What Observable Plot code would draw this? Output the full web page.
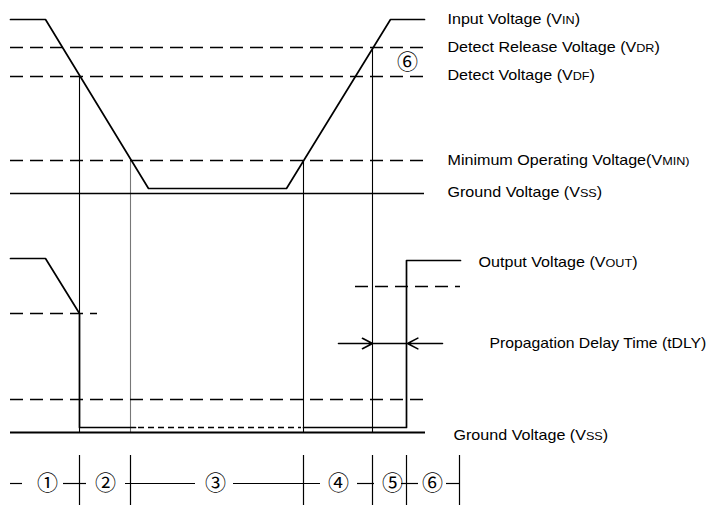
<!DOCTYPE html>
<html><head><meta charset="utf-8">
<script src="https://cdn.jsdelivr.net/npm/d3@7"></script>
<script src="https://cdn.jsdelivr.net/npm/@observablehq/plot@0.6"></script>
<style>body{margin:0;background:#fff}</style>
</head><body><div id="chart"></div>
<script>
// Diagram units: t = time axis (left→right), v = level (top→bottom)
// Input voltage waveform
const vinT = [10, 45, 148, 286, 390, 424];
const vinV = [19, 19, 188, 188, 19, 19];
// Output voltage waveform (solid parts), segment ids
const voutT = [10, 45, 79, 79, 135, 303, 406, 406, 460];
const voutV = [258, 258, 313, 427, 427, 427, 427, 260, 260];
const voutSeg = [0, 0, 0, 0, 0, 1, 1, 1, 1];
// Dotted (undefined) part of output
const dottedT = [138, 301];
const dottedV = 427;
// Threshold levels (top)
const topDashLevels = [47, 76, 160];
const topDashT = [10, 424];
const topGround = 193;
// Output thresholds
const outDashV = [313, 286, 399];
const outDashT1 = [10, 355, 10];
const outDashT2 = [97, 460, 425];
const outGround = 432;
const outGroundT = [10, 425];
// Event times (vertical guides): time, start level, colour
const eventT = [79, 130, 303, 372];
const eventStart = [76, 160, 160, 47];
const eventColor = ["#000", "#777", "#000", "#000"];
const eventEnd = 432;
// Delay arrows
const delayV = 343;
const delayFrom = [338, 442];
const delayTo = [372, 407];
// Period bar
const periodTicks = [79, 130, 303, 372, 406, 459];
const periodTickV = [455, 505];
const periodBarV = 483;
const periodSegT1 = [10, 63, 125, 233, 357, 401, 446];
const periodSegT2 = [22, 86, 195, 320, 374, 418, 459];
const periodLabels = ["①", "②", "③", "④", "⑤", "⑥"];
const periodLabelT = [47, 105, 215, 338, 392, 432];
// Marker ⑥ near thresholds
const markT = 407, markV = 62;
// Right-hand labels ({..} = small caps subscript)
const labelText = [
  "Input Voltage (V{IN})",
  "Detect Release Voltage (V{DR})",
  "Detect Voltage (V{DF})",
  "Minimum Operating Voltage(V{MIN)}",
  "Ground Voltage (V{SS})",
  "Output Voltage (V{OUT})",
  "Propagation Delay Time (tDLY)",
  "Ground Voltage (V{SS})"
];
const labelT = [447, 447, 447, 447, 447, 478, 489, 453];
const labelV = [19, 47, 75, 160, 192, 262, 343, 435];

const vin = vinT.map((t, i) => ({t, v: vinV[i]}));
const vout = voutT.map((t, i) => ({t, v: voutV[i], s: voutSeg[i]}));
const topDash = topDashLevels.map(v => ({v, t1: topDashT[0], t2: topDashT[1]}));
const outDash = outDashV.map((v, i) => ({v, t1: outDashT1[i], t2: outDashT2[i]}));
const events = eventT.map((t, i) => ({t, v1: eventStart[i], v2: eventEnd, c: eventColor[i]}));
const arrows = delayFrom.map((f, i) => ({f, to: delayTo[i], v: delayV}));
const periodSegs = periodSegT1.map((t1, i) => ({t1, t2: periodSegT2[i], v: periodBarV}));
const periods = periodLabels.map((l, i) => ({l, t: periodLabelT[i], v: periodBarV}));
const labels = labelText.map((s, i) => ({s, t: labelT[i], v: labelV[i]}));

const chart = Plot.plot({
  width: 709, height: 506,
  margin: 0,
  x: {domain: [0, 709], range: [0, 709], axis: null},
  y: {domain: [0, 506], range: [0, 506], axis: null},
  style: {background: "#fff"},
  marks: [
    // vertical event guides
    Plot.ruleX(events, {x: "t", y1: "v1", y2: "v2", stroke: "c", strokeWidth: 1.1}),
    // top thresholds
    Plot.ruleY(topDash, {y: "v", x1: "t1", x2: "t2", stroke: "#000", strokeWidth: 1.7, strokeDasharray: "13,7"}),
    Plot.ruleY([topGround], {y: d => d, x1: topDashT[0], x2: topDashT[1], stroke: "#000", strokeWidth: 1.6}),
    Plot.line(vin, {x: "t", y: "v", stroke: "#000", strokeWidth: 1.7, curve: "linear"}),
    // output thresholds
    Plot.ruleY(outDash, {y: "v", x1: "t1", x2: "t2", stroke: "#000", strokeWidth: 1.7, strokeDasharray: "13,7"}),
    Plot.ruleY([outGround], {y: d => d, x1: outGroundT[0], x2: outGroundT[1], stroke: "#000", strokeWidth: 1.8}),
    Plot.line(vout, {x: "t", y: "v", z: "s", stroke: "#000", strokeWidth: 1.7, curve: "linear"}),
    Plot.ruleY([dottedV], {y: d => d, x1: dottedT[0], x2: dottedT[1], stroke: "#000", strokeWidth: 1.5, strokeDasharray: "6,4"}),
    // propagation delay arrows
    Plot.ruleY([delayV], {y: d => d, x1: delayTo[0], x2: delayTo[1], stroke: "#000", strokeWidth: 1.6}),
    Plot.arrow(arrows, {x1: "f", x2: "to", y1: "v", y2: "v", stroke: "#000", strokeWidth: 1.6, headAngle: 55, headLength: 16, insetEnd: 0}),
    // period bar
    Plot.ruleX(periodTicks, {x: d => d, y1: periodTickV[0], y2: periodTickV[1], stroke: "#000", strokeWidth: 1.2}),
    Plot.ruleY(periodSegs, {y: "v", x1: "t1", x2: "t2", stroke: "#000", strokeWidth: 1.2}),
    Plot.text(periods, {x: "t", y: "v", text: "l", fontSize: 21, fill: "#000", fontFamily: "Noto Sans CJK JP", textAnchor: "middle", lineAnchor: "middle"}),
    Plot.text([markT], {x: d => d, y: markV, text: () => "⑥", fontSize: 21, fill: "#000", fontFamily: "Noto Sans CJK JP", textAnchor: "middle", lineAnchor: "middle"}),
    // labels
    Plot.text(labels, {x: "t", y: "v", text: "s", fontSize: 14, fill: "#000", fontFamily: "Liberation Sans", textAnchor: "start", lineAnchor: "middle", className: "lbl"})
  ]
});

document.getElementById("chart").append(chart);

// render {..} parts as small capitals, stretch horizontally but keep inside the frame
d3.select(chart).selectAll("g.lbl text").each(function(_, i) {
  const el = d3.select(this);
  const s = el.text();
  el.text(null);
  s.split(/(\{[^}]*\})/).forEach(part => {
    if (!part) return;
    if (part.startsWith("{")) el.append("tspan").attr("font-size", 11).text(part.slice(1, -1));
    else el.append("tspan").text(part);
  });
  const w = this.getComputedTextLength();
  const room = 706 - labelT[i];
  const k = Math.min(1.15, room / w);
  const tr = el.attr("transform") || "";
  el.attr("transform", tr + ` scale(${k},1)`);
});
</script>
</body></html>
